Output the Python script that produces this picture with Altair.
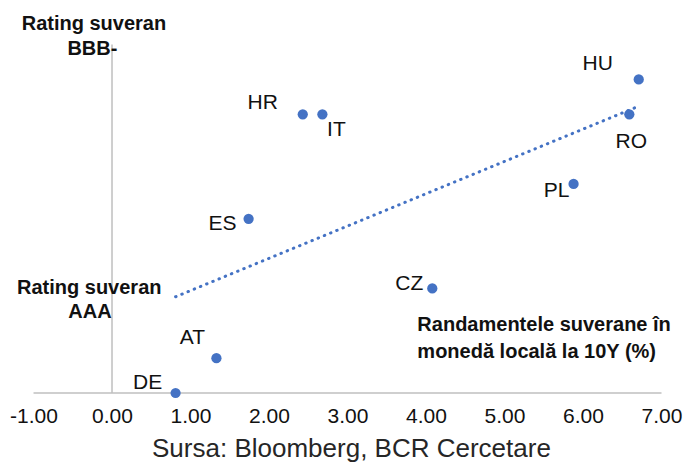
import altair as alt
import pandas as pd

# Data
countries = ["DE", "AT", "ES", "HR", "IT", "CZ", "PL", "RO", "HU"]
yields_10y = [0.81, 1.33, 1.74, 2.43, 2.68, 4.08, 5.88, 6.59, 6.71]
rating_notch = [0, 1, 5, 8, 8, 3, 6, 8, 9]  # notches below AAA

x_ticks = [-1, 0, 1, 2, 3, 4, 5, 6, 7]

ann_text = ["Rating suveran", "BBB-", "Rating suveran", "AAA",
            "Randamentele suverane în", "monedă locală la 10Y (%)"]
ann_x = [-0.23, -0.25, -0.29, -0.28, 3.89, 3.89]
ann_y = [10.6, 9.88, 3.01, 2.32, 1.95, 1.18]
ann_align = ["center", "center", "center", "center", "left", "left"]

source_text = "Sursa: Bloomberg, BCR Cercetare"

# label offsets (style)
label_off = {
    "HU": (-41, -15), "RO": (2, 28), "HR": (-40, -11), "IT": (14, 16),
    "ES": (-26, 5), "PL": (-17, 7), "CZ": (-23, -4), "AT": (-24, -20),
    "DE": (-28, -10),
}

df = pd.DataFrame({"country": countries, "xv": yields_10y, "yv": rating_notch})
ann = pd.DataFrame({"text": ann_text, "xv": ann_x, "yv": ann_y, "align": ann_align})

FONT = "Liberation Sans"
BLUE = "#4472C4"
GRID = "#BFBFBF"

xs = alt.Scale(domain=[-1.325, 7.2994], nice=False, zero=False)
ys = alt.Scale(domain=[0, 11.05], nice=False, zero=False)
xaxis = alt.Axis(values=x_ticks, grid=False, ticks=False, domain=False,
                 labelExpr="replace(format(datum.value, '.2f'), '\u2212', '-')",
                 labelFont=FONT, labelFontSize=21, labelColor="#111111",
                 labelPadding=12, title=None)


def X(f):
    return alt.X(f, type="quantitative", scale=xs, axis=xaxis)


def Y(f):
    return alt.Y(f, type="quantitative", scale=ys, axis=None)


base = alt.Chart(df)

points = base.mark_circle(size=105, color=BLUE, opacity=1).encode(x=X("xv"), y=Y("yv"))

# least-squares linear trend computed with Vega-Lite transforms
trend = base.transform_joinaggregate(
    mx="mean(xv)", my="mean(yv)"
).transform_calculate(
    pxy="(datum.xv - datum.mx) * (datum.yv - datum.my)",
    pxx="(datum.xv - datum.mx) * (datum.xv - datum.mx)",
).transform_joinaggregate(
    sxy="sum(pxy)", sxx="sum(pxx)"
).transform_calculate(
    yhat="datum.my + datum.sxy / datum.sxx * (datum.xv - datum.mx)"
).mark_line(
    color=BLUE, strokeWidth=3, strokeDash=[0.5, 6.2], strokeCap="round"
).encode(x=X("xv"), y=Y("yhat"), order=alt.Order("xv", type="quantitative"))

vline = alt.Chart(pd.DataFrame({"xv": [0], "yv": [0], "yv2": [10]})).mark_rule(
    color=GRID, strokeWidth=1.5
).encode(x=X("xv"), y=Y("yv"), y2=alt.Y2("yv2"))

hline = alt.Chart(pd.DataFrame({"xv": [x_ticks[0]], "xv2": [x_ticks[-1]], "yv": [0]})).mark_rule(
    color=GRID, strokeWidth=1.5
).encode(x=X("xv"), x2=alt.X2("xv2"), y=Y("yv"))

label_layers = []
for c in countries:
    dx, dy = label_off[c]
    label_layers.append(
        base.transform_filter(alt.datum.country == c).mark_text(
            font=FONT, fontSize=21, color="#111111", dx=dx, dy=dy,
            align="center", baseline="middle"
        ).encode(x=X("xv"), y=Y("yv"), text=alt.Text("country", type="nominal"))
    )

ann_layers = []
for al in ["center", "left"]:
    ann_layers.append(
        alt.Chart(ann).transform_filter(alt.datum.align == al).mark_text(
            font=FONT, fontSize=20, fontWeight="bold", color="#111111",
            align=al, baseline="middle"
        ).encode(x=X("xv"), y=Y("yv"), text=alt.Text("text", type="nominal"))
    )

source = alt.Chart(pd.DataFrame({"text": [source_text], "xv": [3.05], "yv": [-1.61]})).mark_text(
    font=FONT, fontSize=26, color="#262626", align="center", baseline="middle"
).encode(x=X("xv"), y=Y("yv"), text=alt.Text("text", type="nominal"))

chart = alt.layer(vline, hline, trend, points, *label_layers, *ann_layers, source).properties(
    width=677, height=385, padding=0,
).configure_view(strokeWidth=0)

chart.save("out.html", embed_options={"renderer": "svg", "actions": False})
